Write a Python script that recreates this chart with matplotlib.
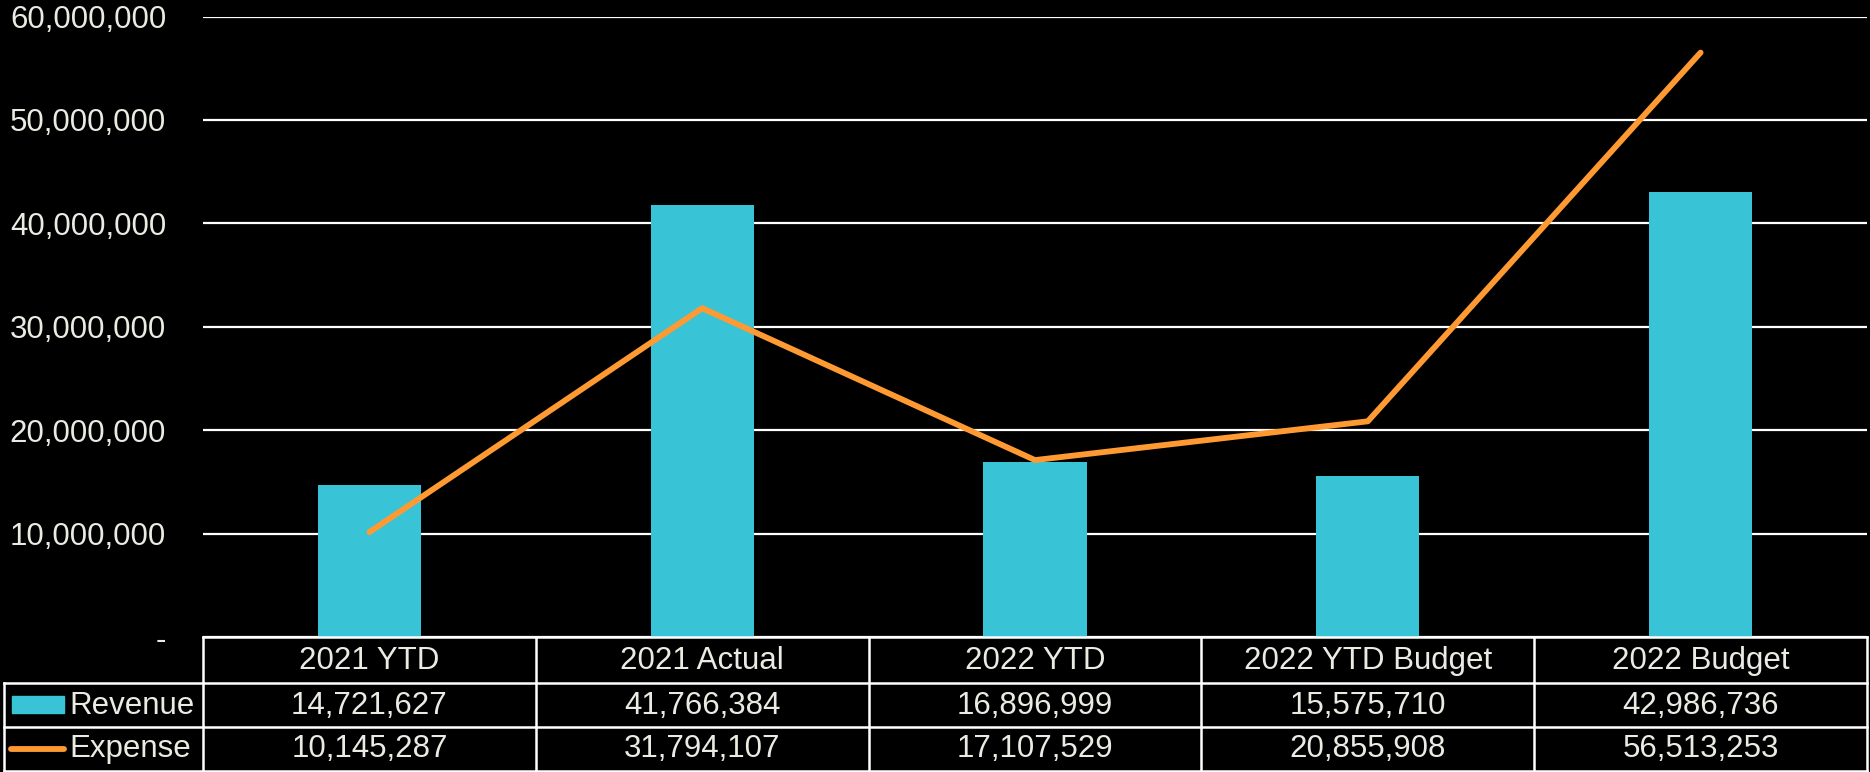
import matplotlib
matplotlib.use("Agg")
import matplotlib.pyplot as plt
from matplotlib.ticker import FuncFormatter, MultipleLocator
from matplotlib.patches import Rectangle
from matplotlib.lines import Line2D

categories = ["2021 YTD", "2021 Actual", "2022 YTD", "2022 YTD Budget", "2022 Budget"]
revenue = [14721627, 41766384, 16896999, 15575710, 42986736]
expense = [10145287, 31794107, 17107529, 20855908, 56513253]
series_names = ["Revenue", "Expense"]

BAR_C = "#38c4d6"
LINE_C = "#ff9a33"
TXT_C = "#ebebe3"
FONT = "Liberation Sans"
FS = 22.5

W, H = 1870, 772
fig = plt.figure(figsize=(W / 100, H / 100), dpi=100, facecolor="black")

L, R, T, B = 203, 1867, 16.5, 637
ax = fig.add_axes([L / W, 1 - B / H, (R - L) / W, (B - T) / H], facecolor="black")
x = list(range(len(categories)))
ax.bar(x, revenue, width=0.31, color=BAR_C, zorder=2)
ax.plot(x, expense, color=LINE_C, lw=4.2, solid_capstyle="round", zorder=3)
ax.set_xlim(-0.5, len(categories) - 0.5)
ax.set_ylim(0, 60e6)
ax.yaxis.set_major_locator(MultipleLocator(10e6))
ax.yaxis.set_major_formatter(FuncFormatter(lambda v, p: "-" if v == 0 else f"{v:,.0f}"))
ax.grid(axis="y", color="white", lw=1.6, zorder=1)
ax.set_axisbelow(True)
ax.set_xticks([])
ax.tick_params(axis="y", length=0, pad=26.5, labelsize=FS, labelcolor=TXT_C)
for lab in ax.get_yticklabels():
    lab.set_fontfamily(FONT)
for s in ax.spines.values():
    s.set_visible(False)

# table overlay in pixel coordinates
tb = fig.add_axes([0, 0, 1, 1], facecolor="none")
tb.set_xlim(0, W)
tb.set_ylim(H, 0)
tb.axis("off")
rows_y = [637, 682.5, 727, 770.5]
legend_left = 4
n = len(categories)
col_edges = [L + i * (R - L) / n for i in range(n + 1)]
lw = 1.8
kw = dict(color="white", lw=lw, solid_capstyle="projecting")
tb.add_line(Line2D([L, R], [rows_y[0]] * 2, **kw))
for yy in rows_y[1:]:
    tb.add_line(Line2D([legend_left, R], [yy] * 2, **kw))
for xe in col_edges:
    tb.add_line(Line2D([xe, xe], [rows_y[0], rows_y[3]], **kw))
tb.add_line(Line2D([legend_left, legend_left], [rows_y[1], rows_y[3]], **kw))

tk = dict(color=TXT_C, fontsize=FS, fontfamily=FONT, ha="center", va="center")
for i, c in enumerate(categories):
    cx = (col_edges[i] + col_edges[i + 1]) / 2
    tb.text(cx, (rows_y[0] + rows_y[1]) / 2 + 1, c, **tk)
    tb.text(cx, (rows_y[1] + rows_y[2]) / 2 + 1, f"{revenue[i]:,}", **tk)
    tb.text(cx, (rows_y[2] + rows_y[3]) / 2 + 0.5, f"{expense[i]:,}", **tk)

ry = (rows_y[1] + rows_y[2]) / 2
ey = (rows_y[2] + rows_y[3]) / 2
tb.add_patch(Rectangle((12, ry - 8.5), 52, 17, color=BAR_C))
tb.add_line(Line2D([11, 64], [ey, ey], color=LINE_C, lw=4.2, solid_capstyle="round"))
tb.text(69, ry + 1, series_names[0], color=TXT_C, fontsize=FS, fontfamily=FONT, ha="left", va="center")
tb.text(69, ey + 0.5, series_names[1], color=TXT_C, fontsize=FS, fontfamily=FONT, ha="left", va="center")

fig.savefig("out.png", dpi=100, facecolor="black")
